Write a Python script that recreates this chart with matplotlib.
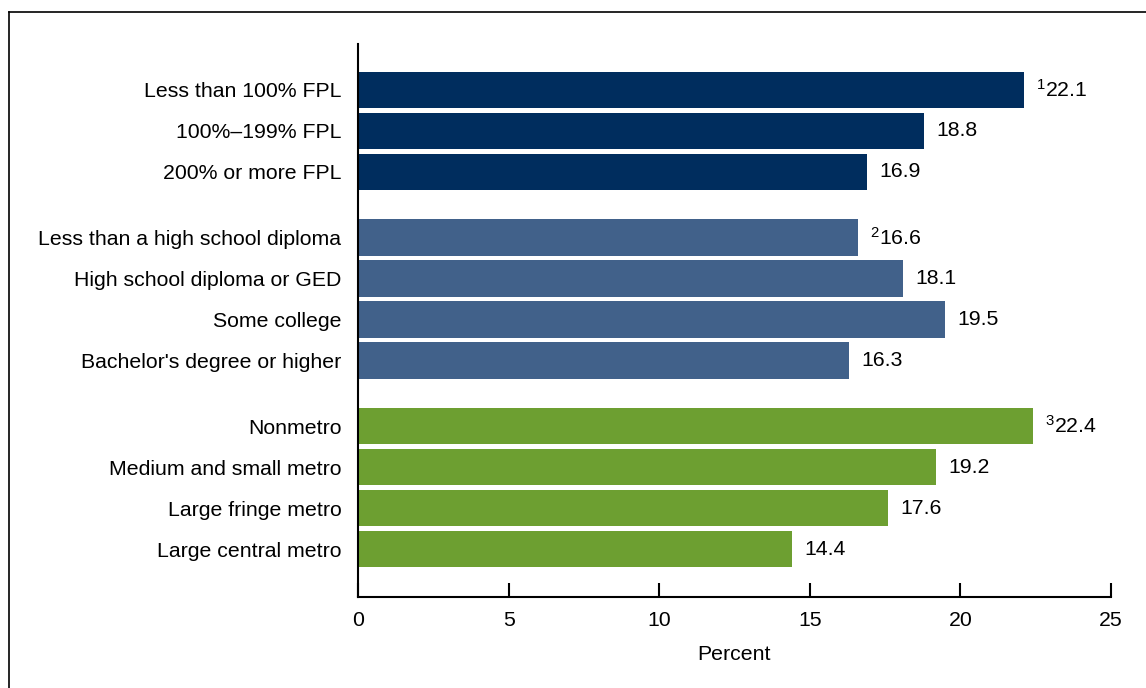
import matplotlib.pyplot as plt
from matplotlib.lines import Line2D

plt.rcParams['font.family'] = ['Liberation Sans', 'DejaVu Sans']
plt.rcParams['mathtext.fontset'] = 'custom'
plt.rcParams['mathtext.rm'] = 'Liberation Sans'
plt.rcParams['mathtext.it'] = 'Liberation Sans'
plt.rcParams['mathtext.default'] = 'rm'

# Data
categories = [
    "Less than 100% FPL", "100%\u2013199% FPL", "200% or more FPL",
    "Less than a high school diploma", "High school diploma or GED",
    "Some college", "Bachelor's degree or higher",
    "Nonmetro", "Medium and small metro", "Large fringe metro",
    "Large central metro",
]
values = [22.1, 18.8, 16.9, 16.6, 18.1, 19.5, 16.3, 22.4, 19.2, 17.6, 14.4]
footnotes = ["1", "", "", "2", "", "", "", "3", "", "", ""]
groups = [0, 0, 0, 1, 1, 1, 1, 2, 2, 2, 2]
group_colors = ["#002D5E", "#41618A", "#6D9F31"]

# positions with a gap between groups
positions = [i + g * 0.6 for i, g in enumerate(groups)]
colors = [group_colors[g] for g in groups]

fig = plt.figure(figsize=(11.46, 6.88), dpi=100)
ax = fig.add_axes([0.3124, 0.1323, 0.657, 0.8037])

ax.barh(positions, values, height=0.88, color=colors)

for p, v, fn in zip(positions, values, footnotes):
    lab = f"{v:.1f}"
    if fn:
        lab = r"$^{" + fn + r"}$" + lab
    ax.annotate(lab, (v, p), xytext=(9, 0), textcoords='offset points',
                va='center', ha='left', fontsize=15.3)

ax.set_yticks(positions)
ax.set_yticklabels(categories, fontsize=15.3)
ax.tick_params(axis='y', length=0, pad=12)
ax.set_ylim(12.37, -1.12)

ax.set_xlim(0, 25)
ax.set_xticks([0, 5, 10, 15, 20, 25])
ax.tick_params(axis='x', direction='in', length=10, width=1.5,
               labelsize=15.3, pad=10)
ax.set_xlabel('Percent', fontsize=15.3, labelpad=11)

for s in ['top', 'right']:
    ax.spines[s].set_visible(False)
ax.spines['left'].set_linewidth(1.5)
ax.spines['bottom'].set_linewidth(1.5)

# frame line on top and left of the figure
fig.add_artist(Line2D([9 / 1146, 1], [1 - 12 / 688, 1 - 12 / 688],
                      color='black', linewidth=1.2))
fig.add_artist(Line2D([9 / 1146, 9 / 1146], [0, 1 - 12 / 688],
                      color='black', linewidth=1.2))

plt.savefig('out.png', dpi=100)
